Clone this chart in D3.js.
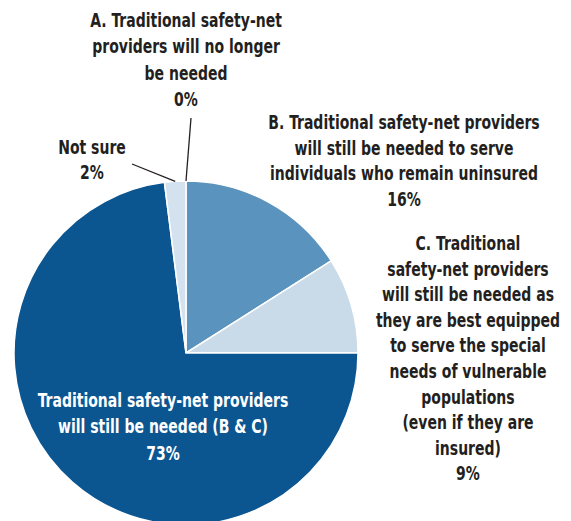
<!DOCTYPE html>
<html>
<head>
<meta charset="utf-8">
<script src="https://cdn.jsdelivr.net/npm/d3@7"></script>
<style>
  html, body { margin: 0; padding: 0; background: #fff; }
  svg text { font-family: "DejaVu Sans Condensed", "DejaVu Sans", sans-serif; font-weight: bold; font-size: 19px; fill: #231f20; }
</style>
</head>
<body>
<div id="chart"></div>
<script>
// slices in clockwise order from 12 o'clock
var categories = ["A", "B", "C", "BC", "Not sure"];
var values = [0, 16, 9, 73, 2];
var sliceColors = ["#5a93bd", "#5a93bd", "#c9dbe8", "#0b5591", "#d3e2ee"];
var labelLines = [
    ["A. Traditional safety-net", "providers will no longer", "be needed", "0%"],
    ["B. Traditional safety-net providers", "will still be needed to serve", "individuals who remain uninsured", "16%"],
    ["C. Traditional", "safety-net providers", "will still be needed as", "they are best equipped", "to serve the special", "needs of vulnerable", "populations", "(even if they are", "insured)", "9%"],
    ["Traditional safety-net providers", "will still be needed (B & C)", "73%"],
    ["Not sure", "2%"]
];

var w = 571, h = 521;
var cx = 186, cy = 353, r = 172;
var squeeze = 0.82; // no condensed face installed, so narrow the text by hand

var svg = d3.select("#chart").append("svg")
    .attr("width", w)
    .attr("height", h);

var pie = d3.pie().sort(null).value(function(d) { return d; });
var arcs = pie(values);
var arc = d3.arc().innerRadius(0).outerRadius(r);
var edge = d3.arc().innerRadius(r).outerRadius(r);

var g = svg.append("g").attr("transform", "translate(" + cx + "," + cy + ")");

g.selectAll("path")
    .data(arcs)
    .enter()
    .append("path")
    .attr("d", arc)
    .attr("fill", function(d, i) { return sliceColors[i]; })
    .attr("stroke", "#fff")
    .attr("stroke-width", 1.5);

// label blocks: centre x, first line y, line height, colour
var labelPos = [
    {x: 186, y: 27, lh: 26.5, fill: "#231f20"},
    {x: 404, y: 129, lh: 25.7, fill: "#231f20"},
    {x: 468, y: 250, lh: 25.6, fill: "#231f20"},
    {x: 163, y: 407, lh: 26.5, fill: "#ffffff"},
    {x: 92, y: 154, lh: 25, fill: "#231f20"}
];

labelLines.forEach(function(lines, i) {
    var p = labelPos[i];
    var t = svg.append("text")
        .attr("text-anchor", "middle")
        .attr("transform", "translate(" + p.x + ",0) scale(" + squeeze + ",1)")
        .style("fill", p.fill);
    lines.forEach(function(s, j) {
        t.append("tspan")
            .attr("x", 0)
            .attr("y", p.y + j * p.lh)
            .text(s);
    });
});

// leader lines for the two small slices
var leaders = [
    {i: 0, x: 191, y: 118},
    {i: 4, x: 132, y: 164}
];
leaders.forEach(function(l) {
    var c = edge.centroid(arcs[l.i]);
    svg.append("line")
        .attr("x1", cx + c[0])
        .attr("y1", cy + c[1])
        .attr("x2", l.x)
        .attr("y2", l.y)
        .attr("stroke", "#231f20")
        .attr("stroke-width", 1.3);
});
</script>
</body>
</html>
